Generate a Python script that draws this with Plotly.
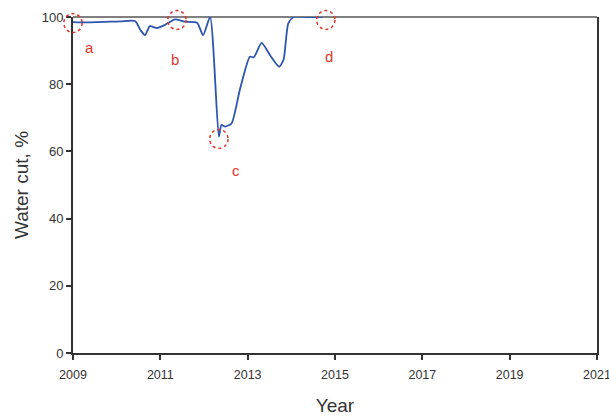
import plotly.graph_objects as go

# Water cut history
years = [2009.0, 2009.3, 2009.6, 2009.85, 2010.1, 2010.42, 2010.55, 2010.65, 2010.76,
         2010.92, 2011.1, 2011.34, 2011.55, 2011.84, 2011.98, 2012.14, 2012.34,
         2012.40, 2012.48, 2012.63, 2012.82, 2013.05, 2013.14, 2013.32, 2013.51,
         2013.72, 2013.82, 2013.93, 2014.05, 2014.4, 2014.72]
water_cut = [98.5, 98.4, 98.5, 98.6, 98.7, 98.8, 96.0, 94.6, 97.3,
             96.7, 97.6, 99.3, 98.6, 98.3, 94.6, 100.0, 64.4,
             67.9, 67.4, 68.3, 78.3, 88.2, 88.0, 92.3, 88.7,
             85.2, 87.2, 98.1, 100.0, 100.0, 100.0]

# Highlighted points and their labels
mark_names = ["a", "b", "c", "d"]
mark_x = [2009.0, 2011.38, 2012.34, 2014.79]
mark_y = [98.2, 99.1, 63.7, 99.1]
label_x = [2009.37, 2011.34, 2012.73, 2014.86]
label_y = [90.8, 87.5, 54.2, 88.1]

x_ticks = [2009, 2011, 2013, 2015, 2017, 2019, 2021]
y_ticks = [0, 20, 40, 60, 80, 100]
x_range = [2009, 2021]
y_range = [0, 100]

fig = go.Figure()
fig.add_trace(go.Scatter(
    x=years, y=water_cut, mode="lines",
    line=dict(color="#2b55b0", width=1.8, shape="spline", smoothing=0.6),
    showlegend=False,
))


def to_paper_x(v):
    return (v - x_range[0]) / (x_range[1] - x_range[0])


def to_paper_y(v):
    return (v - y_range[0]) / (y_range[1] - y_range[0])


# dotted circles drawn in paper space so they are not clipped by the plot area
rx, ry = 0.21, 2.8
for name, cx, cy, lx, ly in zip(mark_names, mark_x, mark_y, label_x, label_y):
    fig.add_shape(type="circle", xref="paper", yref="paper",
                  x0=to_paper_x(cx - rx), x1=to_paper_x(cx + rx),
                  y0=to_paper_y(cy - ry), y1=to_paper_y(cy + ry),
                  line=dict(color="#e8342c", width=1.5, dash="dot"), layer="above")
    fig.add_annotation(x=lx, y=ly, text=name, showarrow=False,
                       font=dict(family="Liberation Sans, Arial", size=15, color="#e8342c"))

# Top border in grey
fig.add_shape(type="line", xref="paper", yref="paper", x0=0, x1=1, y0=1, y1=1,
              line=dict(color="#808080", width=2), layer="below")

fig.update_layout(
    width=609, height=416,
    margin=dict(l=73, r=12, t=17, b=63),
    paper_bgcolor="white", plot_bgcolor="white",
    font=dict(family="Liberation Sans, Arial", color="#333333"),
    xaxis=dict(
        range=x_range, tickvals=x_ticks, ticktext=[str(t) for t in x_ticks],
        showgrid=False, zeroline=False, showline=True, linecolor="#333333", linewidth=2,
        ticks="outside", ticklen=5, tickwidth=1.5, tickcolor="#333333",
        tickfont=dict(size=12.5, color="#333333"), ticklabeloverflow="allow",
        ticklabelstandoff=4, automargin=False,
        title=dict(text="Year", font=dict(size=19, color="#333333"), standoff=22),
    ),
    yaxis=dict(
        range=y_range, tickvals=y_ticks,
        showgrid=False, zeroline=False, showline=True, linecolor="#333333", linewidth=2,
        mirror=True, automargin=False,
        ticks="outside", ticklen=5, tickwidth=1.5, tickcolor="#333333",
        tickfont=dict(size=13, color="#333333"),
        title=dict(text="Water cut, %", font=dict(size=19, color="#333333"), standoff=8),
    ),
)

fig.write_html("out.html")
